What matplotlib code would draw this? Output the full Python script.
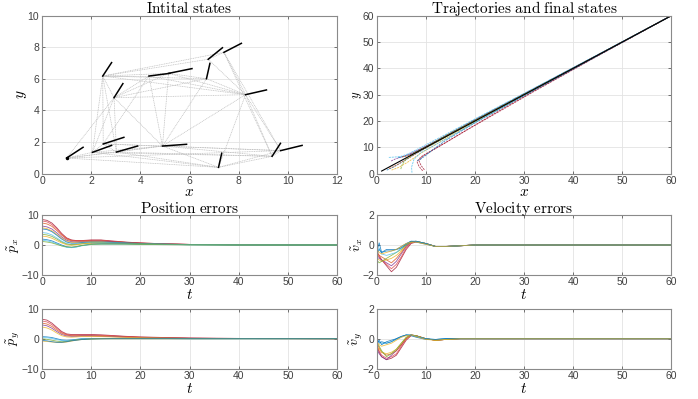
import matplotlib
matplotlib.use("Agg")
import matplotlib.pyplot as plt
import numpy as np

plt.rcParams['mathtext.fontset'] = 'cm'
plt.rcParams['font.family'] = 'Liberation Sans'

# ---- data ----
# initial positions of the 15 followers and the leader (last)
pos_x = [2.05, 2.49, 3.03, 2.93, 4.90, 7.18, 9.36, 4.35, 5.15, 6.69, 6.76, 7.40, 2.47, 9.71, 8.28, 1.00]
pos_y = [1.35, 1.88, 1.37, 4.81, 1.75, 0.40, 1.10, 6.18, 6.35, 6.01, 7.24, 7.68, 6.18, 1.46, 5.00, 0.99]
# heading segment end points
head_x = [2.83, 3.33, 3.89, 3.29, 5.88, 7.31, 9.70, 5.20, 6.10, 6.83, 7.34, 8.11, 2.83, 10.58, 9.13, 1.67]
head_y = [1.79, 2.30, 1.75, 5.70, 1.86, 1.29, 1.92, 6.35, 6.65, 6.98, 7.97, 8.25, 7.03, 1.79, 5.30, 1.67]

edges = [(15, 0), (15, 2), (15, 4), (15, 5), (15, 3), (15, 13),
         (12, 0), (12, 1), (12, 2), (12, 3), (12, 7), (12, 8), (12, 9), (12, 10), (12, 11), (12, 14),
         (3, 0), (3, 2), (3, 4), (3, 7), (3, 8), (3, 14), (3, 9),
         (7, 4), (7, 1), (7, 14), (8, 14), (8, 4), (8, 9),
         (9, 14), (9, 4), (10, 14), (10, 11), (11, 14), (11, 6), (11, 13),
         (14, 6), (14, 13), (14, 4), (14, 5),
         (4, 5), (4, 6), (4, 0), (4, 2), (4, 1),
         (5, 0), (5, 2), (5, 6), (5, 13), (6, 13), (6, 2), (6, 0), (13, 4), (13, 1),
         (1, 0), (1, 2)]

# trajectories (followers), leader goes straight
traj_x = [
    [2.05, 3.5, 5.5, 8.0, 12.0, 20.0, 30.0, 45.0, 60.0],
    [2.49, 4.0, 6.0, 8.5, 12.0, 20.0, 30.0, 45.0, 60.0],
    [3.03, 4.5, 6.5, 9.0, 13.0, 20.0, 30.0, 45.0, 60.0],
    [2.93, 3.8, 5.5, 8.0, 12.0, 20.0, 30.0, 45.0, 60.0],
    [4.90, 5.2, 6.0, 8.0, 11.5, 20.0, 30.0, 45.0, 60.0],
    [7.18, 7.1, 7.6, 9.0, 12.0, 16.0, 22.0, 30.0, 45.0, 60.0],
    [9.36, 8.6, 8.2, 9.0, 11.0, 14.0, 18.0, 24.0, 32.0, 45.0, 60.0],
    [4.35, 5.5, 7.0, 9.0, 12.0, 20.0, 30.0, 45.0, 60.0],
    [5.15, 6.3, 8.0, 10.0, 14.0, 20.0, 30.0, 45.0, 60.0],
    [6.69, 7.0, 8.2, 10.0, 14.0, 20.0, 30.0, 45.0, 60.0],
    [6.76, 7.6, 9.0, 11.0, 15.0, 20.0, 30.0, 45.0, 60.0],
    [7.40, 8.3, 9.8, 12.0, 15.0, 20.0, 30.0, 45.0, 60.0],
    [2.47, 3.5, 4.8, 6.5, 9.0, 13.0, 20.0, 30.0, 45.0, 60.0],
    [9.71, 9.0, 8.6, 9.5, 11.5, 14.5, 18.5, 24.0, 32.0, 45.0, 60.0],
    [8.28, 9.0, 10.0, 11.5, 14.0, 20.0, 30.0, 45.0, 60.0],
]
traj_y = [
    [1.35, 2.6, 4.8, 7.6, 11.8, 20.3, 30.2, 45.1, 60.05],
    [1.88, 3.2, 5.4, 8.2, 11.9, 20.1, 30.0, 45.0, 60.0],
    [1.37, 2.4, 4.6, 7.8, 12.2, 19.6, 29.8, 44.9, 60.0],
    [4.81, 5.6, 6.6, 8.6, 12.3, 20.4, 30.3, 45.1, 60.0],
    [1.75, 3.5, 5.6, 8.0, 11.3, 19.8, 29.9, 44.95, 60.0],
    [0.40, 2.5, 5.5, 8.0, 11.0, 15.2, 21.5, 29.7, 44.9, 60.0],
    [1.10, 2.8, 4.6, 6.4, 8.6, 11.8, 16.2, 22.6, 31.2, 44.7, 60.0],
    [6.18, 6.5, 7.5, 9.3, 12.4, 20.5, 30.3, 45.1, 60.0],
    [6.35, 6.8, 8.2, 10.2, 14.3, 20.3, 30.2, 45.1, 60.0],
    [6.01, 7.2, 8.4, 10.0, 14.0, 20.2, 30.1, 45.0, 60.0],
    [7.24, 8.0, 9.4, 11.3, 15.4, 20.4, 30.2, 45.0, 60.0],
    [7.68, 8.5, 10.0, 12.3, 15.4, 20.3, 30.2, 45.0, 60.0],
    [6.18, 6.3, 6.5, 7.6, 10.0, 13.9, 20.8, 30.5, 45.2, 60.0],
    [1.46, 3.2, 5.0, 6.8, 9.0, 12.3, 16.8, 22.9, 31.4, 44.8, 60.0],
    [5.00, 5.6, 7.0, 9.2, 12.6, 19.3, 29.6, 44.8, 60.0],
]
leader_x = [1.0, 60.0]
leader_y = [1.0, 60.0]

# position errors
t_pos = [0, 1, 2, 3, 4, 5, 6, 7, 8, 10, 12, 14, 17, 20, 25, 30, 40, 60]
px_err = [
    [8.6, 8.3, 7.4, 5.8, 3.9, 2.4, 1.7, 1.5, 1.5, 1.7, 1.7, 1.4, 1.0, 0.7, 0.4, 0.2, 0.1, 0.0],
    [8.1, 7.8, 6.9, 5.4, 3.6, 2.2, 1.6, 1.4, 1.4, 1.6, 1.6, 1.3, 0.9, 0.7, 0.4, 0.2, 0.1, 0.0],
    [7.4, 7.1, 6.3, 4.9, 3.3, 2.0, 1.4, 1.3, 1.3, 1.4, 1.4, 1.2, 0.9, 0.6, 0.35, 0.2, 0.1, 0.0],
    [6.4, 6.1, 5.4, 4.1, 2.7, 1.6, 1.1, 1.0, 1.1, 1.3, 1.3, 1.1, 0.8, 0.6, 0.35, 0.2, 0.1, 0.0],
    [5.8, 5.5, 4.8, 3.6, 2.3, 1.3, 0.9, 0.9, 1.0, 1.1, 1.1, 0.9, 0.7, 0.5, 0.3, 0.15, 0.05, 0.0],
    [5.4, 5.2, 4.5, 3.3, 2.0, 1.0, 0.6, 0.6, 0.8, 1.0, 1.0, 0.9, 0.7, 0.5, 0.3, 0.15, 0.05, 0.0],
    [4.2, 4.0, 3.4, 2.4, 1.3, 0.5, 0.2, 0.3, 0.5, 0.8, 0.8, 0.7, 0.6, 0.4, 0.25, 0.1, 0.05, 0.0],
    [3.6, 3.4, 2.9, 2.0, 1.0, 0.3, 0.1, 0.2, 0.4, 0.7, 0.7, 0.6, 0.5, 0.4, 0.2, 0.1, 0.05, 0.0],
    [3.0, 2.8, 2.3, 1.5, 0.7, 0.1, -0.1, 0.1, 0.3, 0.6, 0.6, 0.5, 0.4, 0.3, 0.2, 0.1, 0.0, 0.0],
    [2.0, 1.8, 1.4, 0.7, 0.0, -0.6, -0.8, -0.6, -0.2, 0.3, 0.4, 0.4, 0.4, 0.3, 0.2, 0.1, 0.0, 0.0],
    [1.6, 1.4, 1.0, 0.4, -0.3, -0.8, -0.9, -0.7, -0.3, 0.2, 0.3, 0.3, 0.3, 0.2, 0.15, 0.05, 0.0, 0.0],
    [1.2, 1.0, 0.7, 0.2, -0.3, -0.6, -0.7, -0.5, -0.2, 0.2, 0.3, 0.3, 0.3, 0.2, 0.1, 0.05, 0.0, 0.0],
]
py_err = [
    [6.5, 6.2, 5.2, 3.8, 2.4, 1.6, 1.4, 1.4, 1.4, 1.4, 1.3, 1.1, 0.8, 0.6, 0.4, 0.2, 0.1, 0.0],
    [5.9, 5.6, 4.7, 3.4, 2.1, 1.4, 1.2, 1.2, 1.2, 1.2, 1.1, 1.0, 0.7, 0.5, 0.35, 0.2, 0.1, 0.0],
    [5.2, 4.9, 4.1, 2.9, 1.8, 1.2, 1.0, 1.0, 1.0, 1.0, 0.9, 0.8, 0.6, 0.45, 0.3, 0.15, 0.05, 0.0],
    [4.6, 4.3, 3.5, 2.4, 1.4, 0.9, 0.8, 0.8, 0.9, 0.9, 0.8, 0.7, 0.5, 0.4, 0.25, 0.15, 0.05, 0.0],
    [3.9, 3.6, 2.9, 1.9, 1.0, 0.6, 0.5, 0.6, 0.7, 0.7, 0.7, 0.6, 0.45, 0.35, 0.2, 0.1, 0.05, 0.0],
    [0.7, 0.6, 0.4, 0.0, -0.4, -0.5, -0.4, -0.2, 0.0, 0.1, 0.1, 0.1, 0.1, 0.1, 0.05, 0.0, 0.0, 0.0],
    [0.4, 0.3, 0.1, -0.3, -0.6, -0.7, -0.5, -0.3, -0.1, 0.0, 0.1, 0.1, 0.1, 0.05, 0.05, 0.0, 0.0, 0.0],
    [0.0, -0.2, -0.5, -0.8, -1.0, -0.9, -0.6, -0.4, -0.2, -0.1, 0.0, 0.0, 0.0, 0.0, 0.0, 0.0, 0.0, 0.0],
    [-0.8, -0.9, -1.1, -1.2, -1.3, -1.1, -0.8, -0.5, -0.3, -0.1, 0.0, 0.0, 0.0, 0.0, 0.0, 0.0, 0.0, 0.0],
    [-0.6, -0.7, -1.0, -1.2, -1.2, -1.0, -0.7, -0.5, -0.3, -0.1, -0.05, 0.0, 0.0, 0.0, 0.0, 0.0, 0.0, 0.0],
]

# velocity errors
t_vel = [0, 0.5, 1, 2, 3, 4, 5, 6, 7, 8, 10, 12, 14, 17, 20, 30, 60]
vx_err = [
    [-0.6, -0.8, -1.0, -1.4, -1.8, -1.5, -0.9, -0.3, 0.1, 0.2, 0.1, -0.1, -0.1, -0.05, 0, 0, 0],
    [-0.4, -0.7, -1.0, -1.3, -1.6, -1.3, -0.8, -0.2, 0.15, 0.25, 0.1, -0.1, -0.1, -0.05, 0, 0, 0],
    [-0.8, -0.9, -1.0, -1.2, -1.4, -1.1, -0.6, -0.1, 0.2, 0.25, 0.1, -0.1, -0.1, -0.05, 0, 0, 0],
    [-0.5, -0.7, -0.8, -1.0, -1.2, -0.9, -0.5, -0.05, 0.2, 0.25, 0.1, -0.1, -0.1, -0.05, 0, 0, 0],
    [-0.9, -1.0, -1.1, -1.0, -0.9, -0.7, -0.4, 0.0, 0.2, 0.25, 0.1, -0.1, -0.1, -0.05, 0, 0, 0],
    [-1.0, -1.2, -1.1, -0.9, -0.7, -0.5, -0.3, 0.0, 0.2, 0.25, 0.1, -0.1, -0.1, -0.05, 0, 0, 0],
    [-0.6, -0.2, -0.6, -0.7, -0.6, -0.5, -0.2, 0.05, 0.25, 0.25, 0.1, -0.1, -0.1, -0.05, 0, 0, 0],
    [-0.5, 0.15, -0.5, -0.4, -0.4, -0.3, -0.2, 0.05, 0.25, 0.25, 0.1, -0.1, -0.1, -0.05, 0, 0, 0],
    [-0.7, -0.3, -0.5, -0.3, -0.3, -0.3, -0.1, 0.1, 0.25, 0.2, 0.05, -0.1, -0.1, -0.05, 0, 0, 0],
    [-0.3, -0.5, -0.6, -0.5, -0.4, -0.3, -0.1, 0.1, 0.2, 0.2, 0.05, -0.1, -0.1, -0.05, 0, 0, 0],
]
vy_err = [
    [-0.5, -0.9, -1.2, -1.4, -1.3, -1.1, -0.6, -0.1, 0.2, 0.2, 0.0, -0.1, -0.05, 0, 0, 0, 0],
    [-0.4, -0.8, -1.1, -1.3, -1.2, -1.0, -0.5, 0.0, 0.25, 0.2, 0.0, -0.1, -0.05, 0, 0, 0, 0],
    [-0.7, -1.0, -1.2, -1.4, -1.1, -0.8, -0.4, 0.05, 0.25, 0.2, 0.0, -0.1, -0.05, 0, 0, 0, 0],
    [-0.3, -0.6, -0.9, -1.1, -1.0, -0.8, -0.4, 0.0, 0.25, 0.2, 0.0, -0.1, -0.05, 0, 0, 0, 0],
    [-0.5, -0.7, -0.9, -1.0, -0.9, -0.7, -0.3, 0.05, 0.25, 0.2, 0.0, -0.1, -0.05, 0, 0, 0, 0],
    [-0.2, -0.5, -0.8, -1.2, -1.0, -0.7, -0.3, 0.1, 0.25, 0.2, 0.0, -0.1, -0.05, 0, 0, 0, 0],
    [-0.1, -0.2, -0.3, -0.3, -0.2, -0.05, 0.1, 0.25, 0.25, 0.15, 0.0, -0.05, 0, 0, 0, 0, 0],
    [0.0, -0.3, -0.2, -0.3, -0.2, 0.0, 0.15, 0.25, 0.25, 0.15, 0.0, -0.05, 0, 0, 0, 0, 0],
    [-0.3, -0.1, -0.4, -0.2, -0.1, 0.0, 0.15, 0.25, 0.2, 0.1, -0.05, -0.05, 0, 0, 0, 0, 0],
    [-0.2, -0.4, -0.5, -0.4, -0.3, -0.1, 0.1, 0.2, 0.25, 0.15, -0.05, -0.1, -0.05, 0, 0, 0, 0],
]

# MATLAB default line colours
mcolors = ['#0072BD', '#D95319', '#EDB120', '#7E2F8E', '#77AC30', '#4DBEEE', '#A2142F']
err_colors = ['#A2142F', '#e0404a', '#D95319', '#7E2F8E', '#EDB120', '#0072BD',
              '#4DBEEE', '#77AC30', '#EDB120', '#0072BD', '#4DBEEE', '#77AC30']
vel_colors = ['#A2142F', '#e0404a', '#7E2F8E', '#D95319', '#EDB120', '#77AC30',
              '#4DBEEE', '#0072BD', '#0072BD', '#EDB120']


def style(ax, xt, yt, xl, yl):
    ax.set_xlim(xl)
    ax.set_ylim(yl)
    ax.set_xticks(xt)
    ax.set_yticks(yt)
    ax.tick_params(direction='in', top=True, right=True, labelsize=7.5,
                   colors='#404040', length=2.5, width=0.5, pad=2)
    ax.grid(True, color='#e3e3e3', linewidth=0.6)
    ax.set_axisbelow(True)
    for s in ax.spines.values():
        s.set_color('#8a8a8a')
        s.set_linewidth(0.8)


fig = plt.figure(figsize=(6.98, 3.99), dpi=100)
ax1 = fig.add_axes([0.0602, 0.5647, 0.4226, 0.396])
ax2 = fig.add_axes([0.5397, 0.5647, 0.4221, 0.396])
ax3 = fig.add_axes([0.0602, 0.3115, 0.4226, 0.1489])
ax4 = fig.add_axes([0.0602, 0.0759, 0.4226, 0.1504])
ax5 = fig.add_axes([0.5397, 0.3115, 0.4221, 0.1489])
ax6 = fig.add_axes([0.5397, 0.0759, 0.4221, 0.1504])

# initial states
for a, b in edges:
    ax1.plot([pos_x[a], pos_x[b]], [pos_y[a], pos_y[b]], ls=(0, (1.5, 1)),
             color='#bdbdbd', lw=0.5)
for i in range(len(pos_x)):
    ax1.plot([pos_x[i], head_x[i]], [pos_y[i], head_y[i]], color='black', lw=1.1)
ax1.plot(pos_x[-1], pos_y[-1], 'o', color='black', ms=1.5)
style(ax1, range(0, 13, 2), range(0, 11, 2), (0, 12), (0, 10))
ax1.set_title(r'$\mathrm{Intital\ states}$', fontsize=11, pad=2)
ax1.set_xlabel('$x$', fontsize=11, labelpad=-1)
ax1.set_ylabel('$y$', fontsize=11, labelpad=-1)

# trajectories
for i in range(len(traj_x)):
    ax2.plot(traj_x[i], traj_y[i], color=mcolors[i % 7], lw=0.6, alpha=0.8,
             ls=(0, (2.5, 1)))
ax2.plot(leader_x, leader_y, color='black', lw=0.8)
style(ax2, range(0, 61, 10), range(0, 61, 10), (0, 60), (0, 60))
ax2.set_title(r'$\mathrm{Trajectories\ and\ final\ states}$', fontsize=11, pad=2)
ax2.set_xlabel('$x$', fontsize=11, labelpad=-1)
ax2.set_ylabel('$y$', fontsize=9, labelpad=-1)

for i, c in enumerate(px_err):
    ax3.plot(t_pos, c, color=err_colors[i], lw=0.6, alpha=0.8)
for i, c in enumerate(py_err):
    ax4.plot(t_pos, c, color=err_colors[i], lw=0.6, alpha=0.8)
for i, c in enumerate(vx_err):
    ax5.plot(t_vel, c, color=vel_colors[i], lw=0.6, alpha=0.8)
for i, c in enumerate(vy_err):
    ax6.plot(t_vel, c, color=vel_colors[i], lw=0.6, alpha=0.8)

for ax in (ax3, ax4):
    style(ax, range(0, 61, 10), [-10, 0, 10], (0, 60), (-10, 10))
    ax.set_xlabel('$t$', fontsize=11, labelpad=0.5)
for ax in (ax5, ax6):
    style(ax, range(0, 61, 10), [-2, 0, 2], (0, 60), (-2, 2))
    ax.set_xlabel('$t$', fontsize=11, labelpad=0.5)

ax3.set_title(r'$\mathrm{Position\ errors}$', fontsize=11, pad=2)
ax5.set_title(r'$\mathrm{Velocity\ errors}$', fontsize=11, pad=2)
ax3.set_ylabel(r'$\tilde{p}_x$', fontsize=10, labelpad=0)
ax4.set_ylabel(r'$\tilde{p}_y$', fontsize=10, labelpad=0)
ax5.set_ylabel(r'$\tilde{v}_x$', fontsize=10, labelpad=-2)
ax6.set_ylabel(r'$\tilde{v}_y$', fontsize=10, labelpad=-2)

fig.savefig('out.png', dpi=100)
